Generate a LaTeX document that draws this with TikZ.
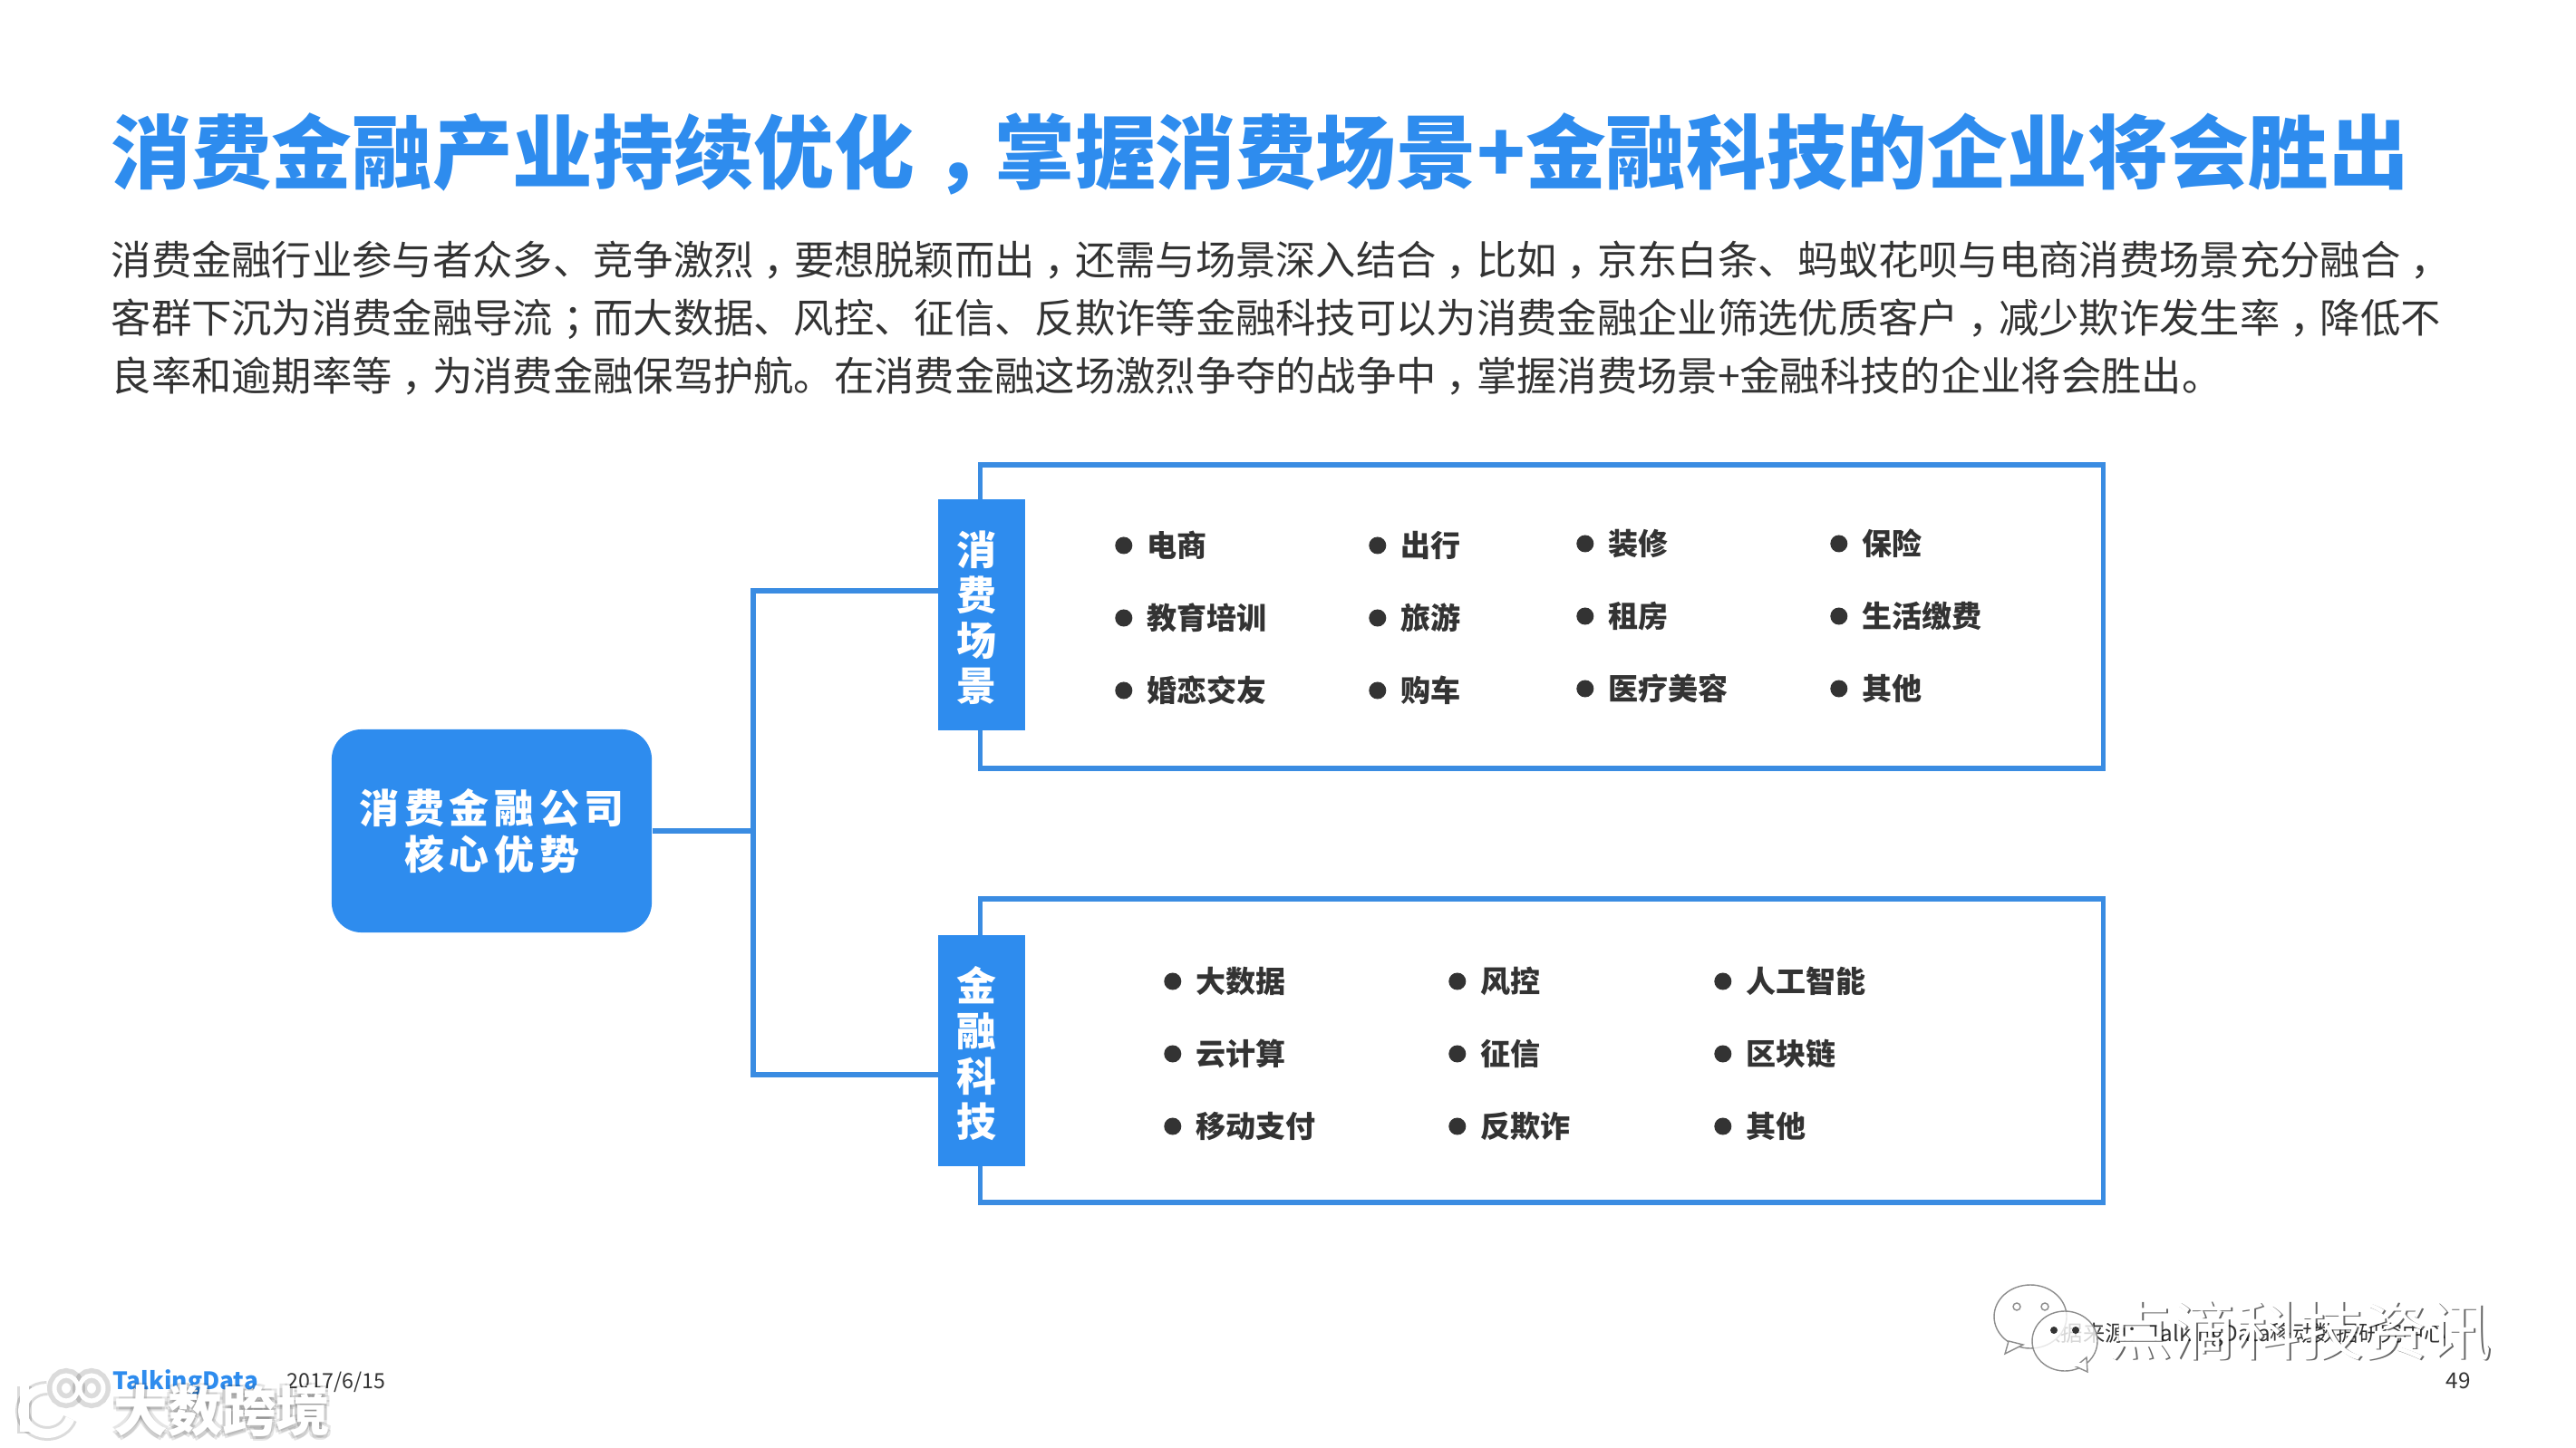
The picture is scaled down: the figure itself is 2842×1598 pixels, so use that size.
\documentclass[tikz,border=0pt]{standalone}
\usepackage{fontspec}
\setmainfont{Noto Sans CJK SC}
\newfontfamily\cjkwide[LetterSpace=13]{Noto Sans CJK SC}
\usepackage{xcolor}
\usetikzlibrary{shapes.geometric, positioning}

\definecolor{tdblue}{HTML}{2E8CEE}
\definecolor{tdline}{HTML}{3A8CE2}
\definecolor{tdtext}{HTML}{333333}

% full-width punctuation sits in the middle of its cell
\newcommand{\cmid}[1]{\hspace{0.25em}#1\hspace{-0.25em}}

\begin{document}
\begin{tikzpicture}[
    x=0.01cm, y=-0.01cm,
    title/.style={anchor=west, inner sep=0, text=tdblue, font=\fontsize{25.2}{28}\selectfont\bfseries},
    para/.style={anchor=west, inner sep=0, text=tdtext, font=\fontsize{12.6}{15}\selectfont},
    frame/.style={rectangle, draw=tdline, line width=0.055cm, fill=white, minimum width=12.38cm, minimum height=3.35cm},
    tag/.style={rectangle, fill=tdblue, minimum width=0.95cm, minimum height=2.55cm},
    tagtext/.style={inner sep=0, align=center, text=white, font=\fontsize{12.5}{14.2}\selectfont\bfseries},
    hub/.style={rectangle, rounded corners=0.33cm, fill=tdblue, minimum width=3.53cm, minimum height=2.24cm, align=center, text=white, font=\fontsize{12.5}{14.4}\selectfont\cjkwide\bfseries},
    link/.style={draw=tdline, line width=0.055cm},
    dot/.style={circle, fill=tdtext, inner sep=0, minimum size=0.19cm},
    item/.style={anchor=west, inner sep=0, text=tdtext, font=\fontsize{9.4}{11}\selectfont\bfseries, label={[dot, label distance=0.15cm]left:{}}},
    foot/.style={anchor=west, inner sep=0, text=tdtext, font=\fontsize{6.6}{8}\selectfont},
    wmwhite/.style={inner sep=0, text=white},
    wmgray/.style={inner sep=0, text=black, opacity=0.1},
    wmline/.style={draw=white, line width=0.1cm},
    wmglow/.style={draw=black, opacity=0.14, line width=0.16cm}
]
\useasboundingbox (0,0) rectangle (2842,1598);

% Heading and paragraph
\node[title] (heading) at (122,170) {消费金融产业持续优化\cmid{，}掌握消费场景+金融科技的企业将会胜出};
\node[para] (line1) at (122,287) {消费金融行业参与者众多、竞争激烈\cmid{，}要想脱颖而出\cmid{，}还需与场景深入结合\cmid{，}比如\cmid{，}京东白条、蚂蚁花呗与电商消费场景充分融合\cmid{，}};
\node[para] (line2) at (122,352) {客群下沉为消费金融导流\cmid{；}而大数据、风控、征信、反欺诈等金融科技可以为消费金融企业筛选优质客户\cmid{，}减少欺诈发生率\cmid{，}降低不};
\node[para] (line3) at (122,415) {良率和逾期率等\cmid{，}为消费金融保驾护航。在消费金融这场激烈争夺的战争中\cmid{，}掌握消费场景+金融科技的企业将会胜出。};

% Frames
\node[frame] (sceneframe) at (1701,680.5) {};
\node[frame] (techframe) at (1701,1159.5) {};

% Tags on the frames
\node[tag] (scene) at (1083,678.5) {};
\node[tagtext, xshift=-0.06cm, yshift=-0.03cm] (scenetext) at (scene) {消\\费\\场\\景};
\node[tag] (tech) at (1083,1159.5) {};
\node[tagtext, xshift=-0.06cm, yshift=-0.03cm] (techtext) at (tech) {金\\融\\科\\技};

% Hub
\node[hub] (core) at (542.5,917) {消费金融公司\\核心优势};

% Connectors
\coordinate (joint) at (831,917);
\coordinate (scenein) at ([yshift=0.265cm]scene.west);
\coordinate (techin) at ([yshift=-0.265cm]tech.west);
\draw[link] (core) -- (joint);
\draw[link] (scenein) -| (joint) |- (techin);

% Consumer scenes
\node[item] (s11) at (1265,602) {电商};
\node[item] (s12) at (1545,602) {出行};
\node[item] (s13) at (1774,600) {装修};
\node[item] (s14) at (2054,600) {保险};
\node[item] (s21) at (1265,682) {教育培训};
\node[item] (s22) at (1545,682) {旅游};
\node[item] (s23) at (1774,680) {租房};
\node[item] (s24) at (2054,680) {生活缴费};
\node[item] (s31) at (1265,762) {婚恋交友};
\node[item] (s32) at (1545,762) {购车};
\node[item] (s33) at (1774,760) {医疗美容};
\node[item] (s34) at (2054,760) {其他};

% Financial technology
\node[item] (t11) at (1319,1083) {大数据};
\node[item] (t12) at (1633,1083) {风控};
\node[item] (t13) at (1926,1083) {人工智能};
\node[item] (t21) at (1319,1163) {云计算};
\node[item] (t22) at (1633,1163) {征信};
\node[item] (t23) at (1926,1163) {区块链};
\node[item] (t31) at (1319,1243) {移动支付};
\node[item] (t32) at (1633,1243) {反欺诈};
\node[item] (t33) at (1926,1243) {其他};

% Footer
\node[anchor=west, inner sep=0, text=tdblue, font=\fontsize{7.5}{9}\selectfont\bfseries] (brand) at (124,1526) {TalkingData};
\node[foot] (date) at (316,1525) {2017/6/15};
\node[foot, font=\fontsize{6.9}{8}\selectfont] (source) at (2249,1473) {数据来源：TalkingData移动数据研究中心};
\node[foot, font=\fontsize{6.9}{8}\selectfont] (page) at (2698,1524) {49};

% Watermark, lower left
\draw[wmglow] (27,1530) -- (27,1582);
\draw[wmglow] (52,1532) arc[start angle=270, end angle=20, x radius=27, y radius=25];
\draw[wmglow] (73,1532) circle[x radius=13, y radius=14];
\draw[wmglow] (101,1532) circle[x radius=13, y radius=14];
\draw[wmline] (27,1530) -- (27,1580);
\draw[wmline] (52,1532) arc[start angle=270, end angle=20, x radius=27, y radius=25];
\draw[wmline, line width=0.05cm] (73,1532) circle[x radius=13, y radius=14];
\draw[wmline, line width=0.05cm] (101,1532) circle[x radius=13, y radius=14];
\foreach \dx/\dy in {-3/3, 3/3, 3/-2, -3/-2, 0/5}
    \node[wmgray, font=\fontsize{17}{20}\selectfont\bfseries] at (245+\dx,1557+\dy) {大数跨境};
\node[wmwhite, font=\fontsize{17}{20}\selectfont\bfseries] (wmleft) at (245,1557) {大数跨境};

% Watermark, lower right
\draw[draw=black!45, fill=white] (2240,1453) ellipse[x radius=40, y radius=35];
\draw[draw=black!45, fill=white] (2216,1480) -- (2212,1494) -- (2232,1484) -- cycle;
\draw[draw=black!45, fill=white] (2225,1442) circle[radius=4];
\draw[draw=black!45, fill=white] (2256,1442) circle[radius=4];
\draw[draw=black!45, fill=white, fill opacity=0.8] (2278,1480) ellipse[x radius=36, y radius=33];
\draw[draw=black!45, fill=white] (2290,1508) -- (2303,1514) -- (2302,1498) -- cycle;
\fill[white] (2285,1504) rectangle (2300,1508);
\fill[tdtext] (2266,1468) circle[radius=4];
\fill[tdtext] (2290,1468) circle[radius=4];
\node[wmgray, opacity=0.6, font=\fontsize{20}{23}\selectfont] (wmrshadow) at (2539.5,1470.5) {点滴科技资讯};
\node[wmwhite, font=\fontsize{20}{23}\selectfont] (wmright) at (2537.5,1469) {点滴科技资讯};

\end{tikzpicture}
\end{document}
